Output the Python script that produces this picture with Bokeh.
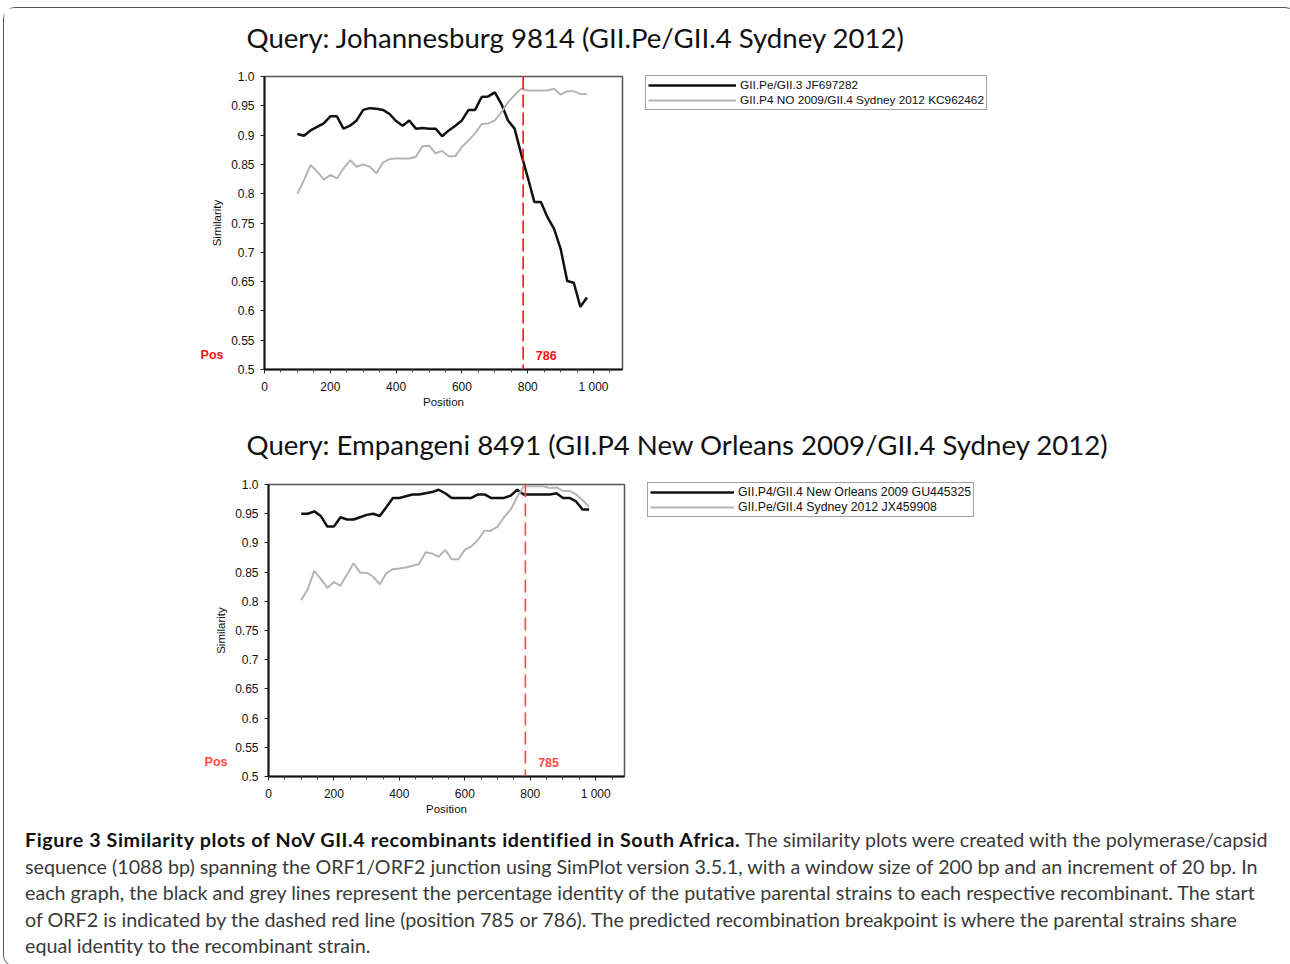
from bokeh.plotting import figure
from bokeh.models import Range1d, FixedTicker, Span, Label, Legend, LegendItem, Div, LinearAxis
from bokeh.layouts import column, row
from bokeh.embed import file_html
from bokeh.resources import INLINE

# ---------------- data ----------------
positions = [100, 120, 140, 160, 180, 200, 220, 240, 260, 280, 300, 320, 340, 360, 380,
             400, 420, 440, 460, 480, 500, 520, 540, 560, 580, 600, 620, 640, 660, 680,
             700, 720, 740, 760, 780, 800, 820, 840, 860, 880, 900, 920, 940, 960, 980]

jhb_black = [0.902, 0.899, 0.908, 0.914, 0.920, 0.932, 0.932, 0.911, 0.916, 0.925,
             0.943, 0.946, 0.945, 0.943, 0.936, 0.924, 0.916, 0.925, 0.911, 0.912,
             0.911, 0.911, 0.898, 0.908, 0.916, 0.925, 0.943, 0.943, 0.965, 0.966,
             0.973, 0.953, 0.925, 0.911, 0.868, 0.828, 0.786, 0.786, 0.760, 0.740,
             0.706, 0.651, 0.648, 0.607, 0.623]
jhb_grey = [0.800, 0.823, 0.849, 0.838, 0.824, 0.832, 0.826, 0.843, 0.857, 0.846,
            0.850, 0.846, 0.835, 0.853, 0.859, 0.860, 0.860, 0.860, 0.863, 0.881,
            0.882, 0.869, 0.873, 0.864, 0.864, 0.880, 0.891, 0.903, 0.919, 0.920,
            0.925, 0.939, 0.956, 0.968, 0.979, 0.976, 0.976, 0.976, 0.976, 0.979,
            0.969, 0.975, 0.975, 0.970, 0.970]

emp_black = [0.950, 0.950, 0.954, 0.946, 0.928, 0.928, 0.944, 0.940, 0.940, 0.944,
             0.948, 0.950, 0.946, 0.961, 0.977, 0.977, 0.980, 0.983, 0.983, 0.985,
             0.987, 0.991, 0.985, 0.977, 0.977, 0.977, 0.977, 0.983, 0.983, 0.977,
             0.977, 0.977, 0.981, 0.991, 0.983, 0.983, 0.983, 0.983, 0.983, 0.985,
             0.977, 0.977, 0.971, 0.957, 0.957]
emp_grey = [0.802, 0.821, 0.852, 0.838, 0.823, 0.833, 0.827, 0.846, 0.865, 0.849,
            0.849, 0.842, 0.829, 0.848, 0.855, 0.856, 0.858, 0.861, 0.864, 0.884,
            0.882, 0.876, 0.888, 0.872, 0.872, 0.888, 0.894, 0.905, 0.921, 0.921,
            0.928, 0.944, 0.957, 0.979, 0.997, 0.997, 0.997, 0.997, 0.994, 0.995,
            0.989, 0.989, 0.983, 0.973, 0.962]

titles = ["Query: Johannesburg 9814 (GII.Pe/GII.4 Sydney 2012)",
          "Query: Empangeni 8491 (GII.P4 New Orleans 2009/GII.4 Sydney 2012)"]
legend_labels = [["GII.Pe/GII.3 JF697282", "GII.P4 NO 2009/GII.4 Sydney 2012 KC962462"],
                 ["GII.P4/GII.4 New Orleans 2009 GU445325", "GII.Pe/GII.4 Sydney 2012 JX459908"]]
orf2_start = [786, 785]

x_ticks = [0, 200, 400, 600, 800, 1000]
x_tick_labels = ["0", "200", "400", "600", "800", "1 000"]
x_minor_ticks = [50, 100, 150, 250, 300, 350, 450, 500, 550, 650, 700, 750, 850, 900, 950, 1050]
y_ticks = [0.5, 0.55, 0.6, 0.65, 0.7, 0.75, 0.8, 0.85, 0.9, 0.95, 1.0]
y_tick_labels = ["0.5", "0.55", "0.6", "0.65", "0.7", "0.75", "0.8", "0.85", "0.9", "0.95", "1.0"]
seq_length = 1088

caption_bold = "Figure 3 Similarity plots of NoV GII.4 recombinants identified in South Africa."
caption_lines = [
    " The similarity plots were created with the polymerase/capsid",
    "sequence (1088 bp) spanning the ORF1/ORF2 junction using SimPlot version 3.5.1, with a window size of 200 bp and an increment of 20 bp. In",
    "each graph, the black and grey lines represent the percentage identity of the putative parental strains to each respective recombinant. The start",
    "of ORF2 is indicated by the dashed red line (position 785 or 786). The predicted recombination breakpoint is where the parental strains share",
    "equal identity to the recombinant strain.",
]

W = 1282
AX_FONT = "Liberation Sans"
POS_Y = 0.524
BLACK = "#111111"
GREY = "#b5b5b5"
TXT = "#111111"


def bare_fig(w, h, **kw):
    p = figure(width=w, height=h, toolbar_location=None, output_backend="svg",
               x_range=Range1d(-2, -1), y_range=Range1d(-2, -1),
               x_axis_location=None, y_axis_location=None, min_border=0, **kw)
    p.frame_align = False
    p.grid.visible = False
    p.outline_line_color = None
    return p


def title_fig(text, h, base_y):
    p = bare_fig(W, h)
    p.add_layout(Label(x=242, y=base_y, x_units="screen", y_units="screen", text=text,
                       text_font="Lato", text_font_size="27.6px", text_color=BLACK,
                       text_baseline="alphabetic"))
    return p


def sim_fig(black, grey, bp, h, left, frame_w, dash, red):
    p = figure(width=left + frame_w + 23, height=h, toolbar_location=None,
               output_backend="svg",
               x_range=Range1d(0, seq_length), y_range=Range1d(0.5, 1.0),
               min_border_left=left, min_border_right=23,
               min_border_top=8, min_border_bottom=46)
    p.frame_align = False
    p.grid.visible = False
    p.outline_line_color = "#555555"
    p.outline_line_width = 1.5
    p.line(positions, black, line_color=BLACK, line_width=2.5)
    p.line(positions, grey, line_color=GREY, line_width=2)
    p.add_layout(Span(location=bp, dimension="height", line_color=red,
                      line_width=1.6, line_dash=dash))

    for ax in (p.xaxis[0], p.yaxis[0]):
        ax.axis_line_color = BLACK
        ax.axis_line_width = 2
        ax.major_tick_line_color = "#222222"
        ax.major_tick_out = 4
        ax.major_tick_in = 0
        ax.major_label_standoff = 6
        ax.major_label_text_font = AX_FONT
        ax.major_label_text_font_size = "12px"
        ax.major_label_text_color = TXT
        ax.axis_label_text_font = AX_FONT
        ax.axis_label_text_font_size = "11.5px"
        ax.axis_label_text_font_style = "normal"
        ax.axis_label_text_color = TXT
    p.xaxis.ticker = FixedTicker(ticks=x_ticks, minor_ticks=x_minor_ticks)
    p.xaxis.major_label_overrides = dict(zip(x_ticks, x_tick_labels))
    p.xaxis.minor_tick_out = 3
    p.xaxis.minor_tick_in = 0
    p.xaxis.minor_tick_line_color = "#444444"
    p.xaxis.axis_label = "Position"
    p.xaxis.axis_label_standoff = -1
    p.yaxis.ticker = FixedTicker(ticks=y_ticks, minor_ticks=[])
    p.yaxis.major_label_overrides = dict(zip(y_ticks, y_tick_labels))
    p.yaxis.axis_label = "Similarity"
    p.yaxis.axis_label_standoff = 5

    # red "Pos" marker as an extra line-less left axis (outside the frame, not clipped)
    pos_axis = LinearAxis(ticker=FixedTicker(ticks=[POS_Y], minor_ticks=[]),
                          major_label_overrides={POS_Y: "Pos"},
                          axis_line_color=None, major_tick_line_color=None,
                          minor_tick_line_color=None, major_tick_out=0, major_tick_in=0,
                          major_label_standoff=-15, major_label_text_color=red,
                          major_label_text_font=AX_FONT, major_label_text_font_style="bold",
                          major_label_text_font_size="12.5px")
    p.add_layout(pos_axis, "left")

    p.add_layout(Label(x=856, y=POS_Y, text=str(bp), text_align="center",
                       text_baseline="middle", text_color=red, text_font=AX_FONT,
                       text_font_style="bold", text_font_size="12.5px"))
    return p


def legend_fig(w, h, top, labels, black, grey, glyph_w, font_size):
    # the series are drawn outside this panel's (empty) ranges; only their legend shows
    p = bare_fig(w, h, min_border_top=top)
    r1 = p.line(positions, black, line_color=BLACK, line_width=2.5)
    r2 = p.line(positions, grey, line_color=GREY, line_width=2)
    legend = Legend(items=[LegendItem(label=labels[0], renderers=[r1]),
                           LegendItem(label=labels[1], renderers=[r2])],
                    location="top_left", orientation="vertical",
                    glyph_width=glyph_w, glyph_height=14, label_height=14,
                    label_standoff=4, spacing=1, padding=2, margin=0,
                    label_text_font=AX_FONT, label_text_font_size=font_size,
                    label_text_color=TXT,
                    border_line_color="#444444", border_line_width=1.5,
                    background_fill_color="white", background_fill_alpha=1.0)
    p.add_layout(legend)
    return p


t1 = title_fig(titles[0], 60, 31.5)
p1 = sim_fig(jhb_black, jhb_grey, orf2_start[0], 347, 260, 358, "13 5", "#ff1010")
l1 = legend_fig(W - p1.width, 347, 7, legend_labels[0], jhb_black, jhb_grey, 88, "11.8px")
t2 = title_fig(titles[1], 61, 32.5)
p2 = sim_fig(emp_black, emp_grey, orf2_start[1], 346, 264, 356, "13 6", "#ff4848")
l2 = legend_fig(W - p2.width, 346, 6, legend_labels[1], emp_black, emp_grey, 84, "12.3px")

cap_html = ("<div style=\"font-family:'Lato'; font-size:19.7px; line-height:26.5px; "
            "color:#3a3a3a; padding-left:16px; padding-top:0px; white-space:nowrap;\">"
            "<b style='color:#111111; letter-spacing:0.6px'>" + caption_bold + "</b>"
            + caption_lines[0] + "<br>" + "<br>".join(caption_lines[1:]) + "</div>")
cap = Div(text=cap_html, width=W, height=134)

layout = column(t1, row(p1, l1, spacing=0), t2, row(p2, l2, spacing=0), cap, spacing=0,
                styles={"border": "1.5px solid #555555", "border-radius": "12px",
                        "background-color": "white", "margin-left": "3px",
                        "margin-top": "7px"})

open("out.html", "w").write(file_html(layout, INLINE))
